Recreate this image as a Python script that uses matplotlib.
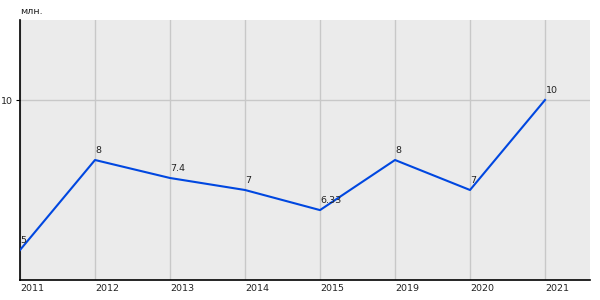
import matplotlib
matplotlib.use("Agg")
import matplotlib.pyplot as plt

years = ["2011", "2012", "2013", "2014", "2015", "2019", "2020", "2021"]
values = [5, 8, 7.4, 7, 6.33, 8, 7, 10]
labels = ["5", "8", "7.4", "7", "6.33", "8", "7", "10"]
y_ticks = [10]
unit = "млн."

fig = plt.figure(figsize=(6, 3), dpi=100)
ax = fig.add_axes([20/600, 20/300, 570/600, 260/300])
ax.set_facecolor("#EBEBEB")
x = list(range(len(years)))
ax.plot(x, values, color="#0047E0", lw=1.5, zorder=3)
for xi, v, lab in zip(x, values, labels):
    ax.annotate(lab, (xi, v), xytext=(0.5, 3.5), textcoords="offset points",
                ha="left", va="bottom", fontsize=6.8, color="#222222", zorder=4)
ax.set_xlim(0, 7.6)
ax.set_ylim(4, 4 + 260/30)
ax.set_xticks(x)
ax.set_xticklabels(years, ha="left", fontsize=6.8, color="#222222")
ax.set_yticks(y_ticks)
ax.set_yticklabels([str(t) for t in y_ticks], fontsize=6.8, color="#222222")
ax.tick_params(axis="x", length=0, pad=3)
ax.tick_params(axis="y", length=3, width=0.8, pad=2)
ax.grid(True, color="#C8C8C8", lw=1)
ax.set_axisbelow(True)
for s in ["top", "right"]:
    ax.spines[s].set_visible(False)
for s in ["left", "bottom"]:
    ax.spines[s].set_color("black")
    ax.spines[s].set_linewidth(1.2)
fig.text(20/600, 1 - 12/300, unit, fontsize=6.8, ha="left", va="center", color="#222222")
fig.savefig("out.png", dpi=100, facecolor="white")
